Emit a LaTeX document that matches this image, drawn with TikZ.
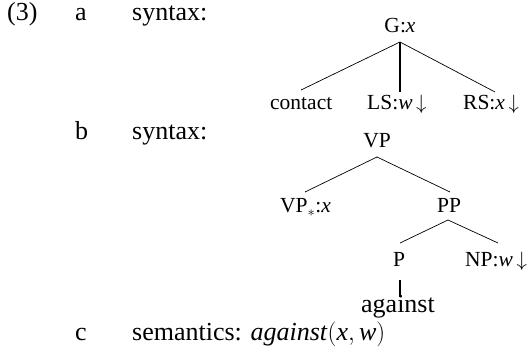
\documentclass[tikz,border=0pt]{standalone}
\usepackage{fontspec}
\setmainfont{Liberation Serif}
\begin{document}
\begin{tikzpicture}[x=1pt,y=-1pt,
  body/.style={font=\fontsize{26}{30}\selectfont, anchor=base west, inner sep=0pt},
  lab/.style={font=\fontsize{21.5}{25}\selectfont, anchor=base west, inner sep=0pt},
  edge/.style={line width=0.7pt},
  stem/.style={line width=2.4pt}]
\useasboundingbox (0,0) rectangle (530,352);
% row a
\node[body] (n3) at (7,21) {(3)};
\node[body] (la) at (75,21) {a};
\node[body] (sa) at (132,21) {syntax:};
\node[lab, anchor=base] (G) at (400,33) {G:\textit{x}};
\node[lab] (contact) at (270,110) {contact};
\node[lab] (LS) at (367,110) {LS:\textit{w}\,$\downarrow$};
\node[lab] (RS) at (463,110) {RS:\textit{x}\,$\downarrow$};
\coordinate (Gv) at (400,42);
\coordinate (contactt) at (301,90);
\coordinate (LSt) at (400,92);
\coordinate (RSt) at (495,92);
\draw[edge] (Gv) -- (contactt);
\draw[stem] (Gv) -- (LSt);
\draw[edge] (Gv) -- (RSt);
% row b
\node[body] (lb) at (75,140) {b};
\node[body] (sb) at (132,140) {syntax:};
\node[lab, anchor=base] (VP) at (377,148) {VP};
\node[lab] (VPs) at (280,213) {VP$_{\ast}$:\textit{x}};
\node[lab] (PP) at (437,213) {PP};
\node[lab, anchor=base] (P) at (399,267) {P};
\node[lab] (NP) at (465,267) {NP:\textit{w}\,$\downarrow$};
\node[body, anchor=base] (ag) at (398,313) {against};
\coordinate (VPv) at (377,157);
\coordinate (VPst) at (305,192);
\coordinate (PPt) at (450,192);
\coordinate (PPv) at (448,220);
\coordinate (Pt) at (400,243);
\coordinate (NPt) at (498,243);
\coordinate (Pv) at (400,280);
\coordinate (agt) at (400,297);
\draw[edge] (VPv) -- (VPst);
\draw[edge] (VPv) -- (PPt);
\draw[edge] (PPv) -- (Pt);
\draw[edge] (PPv) -- (NPt);
\draw[stem] (Pv) -- (agt);
% row c
\node[body] (lc) at (75,341) {c};
\node[body] (sc) at (132,341) {semantics: \textit{against}$($\textit{x}$,$\,\textit{w}$)$};
\end{tikzpicture}
\end{document}
